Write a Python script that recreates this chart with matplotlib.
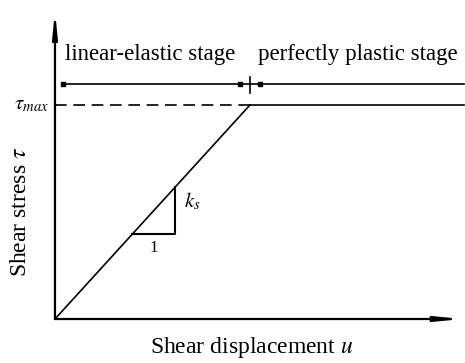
import matplotlib
matplotlib.use("Agg")
import matplotlib.pyplot as plt

plt.rcParams["font.family"] = ["Liberation Serif", "DejaVu Serif"]
plt.rcParams["mathtext.fontset"] = "stix"

# normalised model: yield at u = 1, tau = 1
u_curve = [0.0, 1.0, 2.10]
tau_curve = [0.0, 1.0, 1.0]
tau_max = 1.0
u_yield = 1.0
stage_level = 1.098
stage_start = 0.041
stage_markers = [0.041, 0.949, 1.051]
tri_u = [0.395, 0.615]
u_axis_end = 2.087
tau_axis_end = 1.44

fig = plt.figure(figsize=(4.65, 3.63), dpi=100)
ax = fig.add_axes([0, 0, 1, 1])
ax.set_xlim(-0.282, 2.103)
ax.set_ylim(-0.2056, 1.4907)
ax.axis("off")

lw = 1.2
# axes with narrow, long arrowheads
arrow = dict(arrowstyle="-|>,head_length=1.2,head_width=0.12",
             color="black", lw=1.6, shrinkA=0, shrinkB=0,
             mutation_scale=12)
ax.annotate("", xy=(u_axis_end, 0), xytext=(0, 0), arrowprops=arrow)
ax.annotate("", xy=(0, tau_axis_end), xytext=(0, 0), arrowprops=arrow)

# constitutive curve
ax.plot(u_curve[:2], tau_curve[:2], color="black", lw=lw)
ax.plot(u_curve[1:], tau_curve[1:], color="black", lw=lw)
ax.plot([0, u_yield], [tau_max, tau_max], color="black", lw=lw,
        dashes=(7, 4))

# stage line
ax.plot([stage_start, u_curve[-1]], [stage_level, stage_level],
        color="black", lw=lw)
ax.plot(stage_markers, [stage_level] * len(stage_markers), "s",
        color="black", ms=3.5)
ax.plot([u_yield, u_yield], [stage_level - 0.042, stage_level + 0.035],
        color="black", lw=lw)

# slope triangle
ax.plot([tri_u[0], tri_u[1], tri_u[1]], [tri_u[0], tri_u[0], tri_u[1]],
        color="black", lw=1.5)
ax.text((tri_u[0] + tri_u[1]) / 2, tri_u[0] - 0.065, "1",
        ha="center", va="center", fontsize=12)
ax.text(tri_u[1] + 0.045, 0.55, r"$k_s$",
        ha="left", va="center", fontsize=15)

# labels
ax.text(-0.03, tau_max, r"$\tau_{max}$", ha="right", va="center",
        fontsize=15)
ax.text(0.487, 1.234, "linear-elastic stage",
        ha="center", va="center", fontsize=16.5)
ax.text(1.554, 1.234, "perfectly plastic stage",
        ha="center", va="center", fontsize=16.5)
ax.text(-0.175, 0.5, r"Shear stress $\tau$", rotation=90,
        ha="center", va="center", fontsize=17)
ax.text(1.01, -0.131, r"Shear displacement $u$", ha="center", va="center",
        fontsize=17)

fig.savefig("out.png", dpi=100)
